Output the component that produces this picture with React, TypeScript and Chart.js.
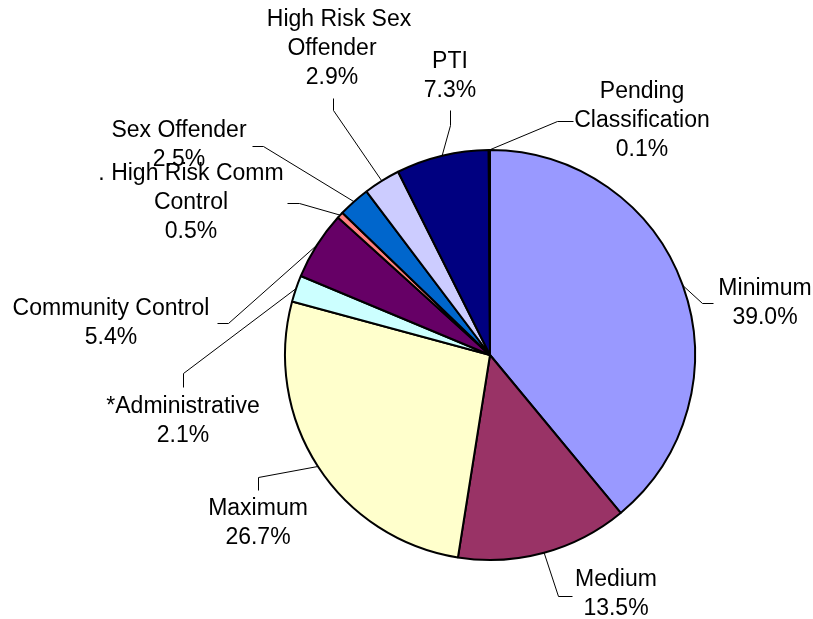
import React, { useEffect, useRef } from 'react';
import { Chart, registerables } from 'chart.js';

Chart.register(...registerables);

const categories = [
  'Minimum',
  'Medium',
  'Maximum',
  '*Administrative',
  'Community Control',
  'High Risk Comm Control',
  'Sex Offender',
  'High Risk Sex Offender',
  'PTI',
  'Pending Classification',
];
const values = [39.0, 13.5, 26.7, 2.1, 5.4, 0.5, 2.5, 2.9, 7.3, 0.1];
const percentLabels = ['39.0%', '13.5%', '26.7%', '2.1%', '5.4%', '0.5%', '2.5%', '2.9%', '7.3%', '0.1%'];
const labelText = [
  ['Minimum'],
  ['Medium'],
  ['Maximum'],
  ['*Administrative'],
  ['Community Control'],
  ['. High Risk Comm', 'Control'],
  ['Sex Offender'],
  ['High Risk Sex', 'Offender'],
  ['PTI'],
  ['Pending', 'Classification'],
];
const colors = [
  '#9999FF', '#993366', '#FFFFCC', '#CCFFFF', '#660066',
  '#FF8080', '#0066CC', '#CCCCFF', '#000080', '#FF00FF',
];

// label placement (annotation layout): centre x, first line y, leader elbow points, optional clip
const labelLayout: any[] = [
  { cx: 765, y: 289, leader: [[713, 303], [702, 303]] },
  { cx: 616, y: 580, leader: [[572, 596], [558, 596]] },
  { cx: 258, y: 509, leader: [[258, 490], [258, 477]] },
  { cx: 183, y: 407, leader: [[183, 387], [183, 373]] },
  { cx: 111, y: 309, leader: [[217, 323], [228, 323]] },
  { cx: 191, y: 174, leader: [[287, 203], [299, 203]] },
  { cx: 179, y: 131, leader: [[252, 146], [263, 146]] },
  { cx: 332, y: 20, leader: [[333, 98], [333, 110]], clipRight: 411, firstDx: 7 },
  { cx: 450, y: 62, leader: [[450, 110], [450, 125]] },
  { cx: 642, y: 92, leader: [[573, 121], [557, 121]] },
];

const LINE_H = 29;
const FONT = '23px "Liberation Sans", Arial, sans-serif';

const labelPlugin = {
  id: 'pieLabels',
  afterDatasetsDraw(chart: any) {
    const ctx = chart.ctx;
    const meta = chart.getDatasetMeta(0);
    ctx.save();
    meta.data.forEach((arc: any, i: number) => {
      const p = arc.getProps(['x', 'y', 'startAngle', 'endAngle', 'outerRadius'], true);
      const mid = (p.startAngle + p.endAngle) / 2;
      const ex = p.x + Math.cos(mid) * p.outerRadius;
      const ey = p.y + Math.sin(mid) * p.outerRadius;
      const lay = labelLayout[i];
      ctx.beginPath();
      ctx.strokeStyle = '#000';
      ctx.lineWidth = 1;
      ctx.moveTo(lay.leader[0][0] + 0.5, lay.leader[0][1] + 0.5);
      ctx.lineTo(lay.leader[1][0] + 0.5, lay.leader[1][1] + 0.5);
      ctx.lineTo(ex, ey);
      ctx.stroke();

      const lines = [...labelText[i], percentLabels[i]];
      ctx.font = FONT;
      ctx.fillStyle = '#000';
      ctx.textAlign = 'center';
      ctx.textBaseline = 'middle';
      lines.forEach((t, k) => {
        if (k === 0 && lay.clipRight) {
          ctx.save();
          ctx.beginPath();
          ctx.rect(0, 0, lay.clipRight, chart.height);
          ctx.clip();
          ctx.fillText(t, lay.cx + (lay.firstDx || 0), lay.y + k * LINE_H);
          ctx.restore();
        } else {
          ctx.fillText(t, lay.cx, lay.y + k * LINE_H);
        }
      });
    });
    ctx.restore();
  },
};

export default function App() {
  const ref = useRef<HTMLCanvasElement>(null);
  useEffect(() => {
    if (!ref.current) return;
    const chart = new Chart(ref.current, {
      type: 'pie',
      data: {
        labels: categories,
        datasets: [
          {
            data: values,
            backgroundColor: colors,
            borderColor: '#000000',
            borderWidth: 2,
            radius: 205,
          } as any,
        ],
      },
      options: {
        responsive: false,
        animation: false,
        devicePixelRatio: 1,
        layout: { padding: { left: 285, right: 118, top: 150, bottom: 59 } },
        plugins: {
          legend: { display: false },
          tooltip: { enabled: false },
        },
      },
      plugins: [labelPlugin],
    });
    return () => chart.destroy();
  }, []);
  return (
    <div style={{ position: 'absolute', left: 0, top: 0, width: 813, height: 619, background: '#fff' }}>
      <canvas ref={ref} width={813} height={619} />
    </div>
  );
}
